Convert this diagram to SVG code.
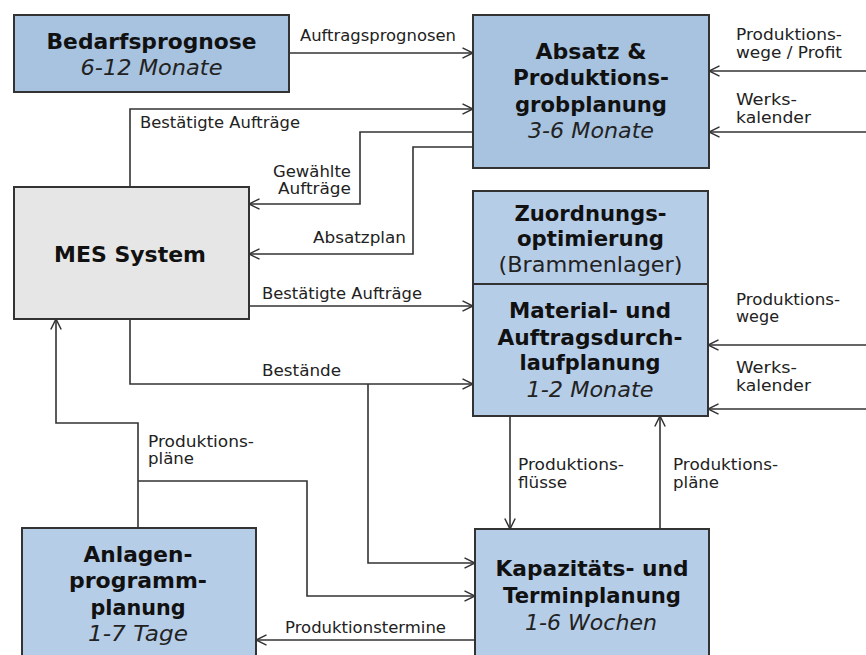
<svg xmlns="http://www.w3.org/2000/svg" width="866" height="655" viewBox="0 0 866 655">
<defs>
<marker id="arr" viewBox="0 0 12 12" refX="11.5" refY="6" markerWidth="12" markerHeight="12" orient="auto" markerUnits="userSpaceOnUse">
<path d="M1,0.8 L11.5,6 L1,11.2" fill="none" stroke="#333" stroke-width="1.5"/>
</marker>
<style>
.box{stroke:#333;stroke-width:2}
.dk{fill:#a8c3e0}
.lt{fill:#b6cde8}
.gr{fill:#e6e6e6}
.t{font-family:"DejaVu Sans","Liberation Sans",sans-serif;font-size:20.5px;font-weight:bold;fill:#111;text-anchor:middle}
.i{font-family:"DejaVu Sans","Liberation Sans",sans-serif;font-size:20.5px;font-style:italic;fill:#222;text-anchor:middle}
.n{font-family:"DejaVu Sans","Liberation Sans",sans-serif;font-size:20.5px;fill:#222;text-anchor:middle}
.l{font-family:"DejaVu Sans","Liberation Sans",sans-serif;font-size:15px;fill:#222}
.e{text-anchor:end}
.c{fill:none;stroke:#333;stroke-width:1.6;marker-end:url(#arr)}
</style>
</defs>
<rect width="866" height="655" fill="#fff"/>

<g id="connectors">
<path class="c" d="M289,53 H473"/>
<path class="c" d="M130,187 V109 H473"/>
<path class="c" d="M473,132 H360 V204 H249"/>
<path class="c" d="M473,147 H413 V254 H249"/>
<path class="c" d="M249,306 H473"/>
<path class="c" d="M130,319 V384 H473"/>
<path class="c" d="M368,384 V563 H475"/>
<path class="c" d="M138,528 V423 H56 V319"/>
<path class="c" d="M138,481 H307 V596 H475"/>
<path class="c" d="M475,640 H256"/>
<path class="c" d="M866,71 H709"/>
<path class="c" d="M866,132 H709"/>
<path class="c" d="M866,345 H708"/>
<path class="c" d="M866,409 H708"/>
<path class="c" d="M510,416 V529"/>
<path class="c" d="M660,529 V416"/>
<g id="connector-labels">
<text class="l" x="300" y="40.5" textLength="156" lengthAdjust="spacingAndGlyphs">Auftragsprognosen</text>
<text class="l" x="140" y="127.5" textLength="160" lengthAdjust="spacingAndGlyphs">Bestätigte Aufträge</text>
<text class="l e" x="351" y="176.5" textLength="78" lengthAdjust="spacingAndGlyphs">Gewählte</text>
<text class="l e" x="351" y="194" textLength="73" lengthAdjust="spacingAndGlyphs">Aufträge</text>
<text class="l e" x="406" y="242.5" textLength="93" lengthAdjust="spacingAndGlyphs">Absatzplan</text>
<text class="l" x="262" y="298.5" textLength="160" lengthAdjust="spacingAndGlyphs">Bestätigte Aufträge</text>
<text class="l" x="262" y="376" textLength="79" lengthAdjust="spacingAndGlyphs">Bestände</text>
<text class="l" x="148" y="446.5" textLength="106" lengthAdjust="spacingAndGlyphs">Produktions-</text>
<text class="l" x="148" y="464" textLength="46" lengthAdjust="spacingAndGlyphs">pläne</text>
<text class="l" x="285" y="633" textLength="161" lengthAdjust="spacingAndGlyphs">Produktionstermine</text>
<text class="l" x="736" y="40" textLength="106" lengthAdjust="spacingAndGlyphs">Produktions-</text>
<text class="l" x="736" y="58" textLength="106" lengthAdjust="spacingAndGlyphs">wege / Profit</text>
<text class="l" x="736" y="104.5" textLength="61" lengthAdjust="spacingAndGlyphs">Werks-</text>
<text class="l" x="736" y="122.5" textLength="75" lengthAdjust="spacingAndGlyphs">kalender</text>
<text class="l" x="736" y="304.5" textLength="104" lengthAdjust="spacingAndGlyphs">Produktions-</text>
<text class="l" x="736" y="322" textLength="43" lengthAdjust="spacingAndGlyphs">wege</text>
<text class="l" x="736" y="373" textLength="61" lengthAdjust="spacingAndGlyphs">Werks-</text>
<text class="l" x="736" y="391" textLength="75" lengthAdjust="spacingAndGlyphs">kalender</text>
<text class="l" x="518" y="470" textLength="106" lengthAdjust="spacingAndGlyphs">Produktions-</text>
<text class="l" x="518" y="487.5" textLength="49" lengthAdjust="spacingAndGlyphs">flüsse</text>
<text class="l" x="673" y="470" textLength="105" lengthAdjust="spacingAndGlyphs">Produktions-</text>
<text class="l" x="673" y="487.5" textLength="46" lengthAdjust="spacingAndGlyphs">pläne</text>
</g>
</g>

<g id="bedarfsprognose">
<rect class="box dk" x="14" y="15" width="275" height="77"/>
<text class="t" x="151.5" y="48.5" textLength="210" lengthAdjust="spacingAndGlyphs">Bedarfsprognose</text>
<text class="i" x="151.5" y="75" textLength="142" lengthAdjust="spacingAndGlyphs">6-12 Monate</text>
</g>

<g id="absatz">
<rect class="box dk" x="473" y="15" width="236" height="153"/>
<text class="t" x="591" y="58.5" textLength="111" lengthAdjust="spacingAndGlyphs">Absatz &amp;</text>
<text class="t" x="591" y="85" textLength="156" lengthAdjust="spacingAndGlyphs">Produktions-</text>
<text class="t" x="591" y="111.5" textLength="152" lengthAdjust="spacingAndGlyphs">grobplanung</text>
<text class="i" x="591" y="138" textLength="126" lengthAdjust="spacingAndGlyphs">3-6 Monate</text>
</g>

<g id="mes">
<rect class="box gr" x="14" y="187" width="235" height="132"/>
<text class="t" x="130" y="261.5" textLength="152" lengthAdjust="spacingAndGlyphs">MES System</text>
</g>

<g id="zuordnung">
<rect class="box lt" x="473" y="191" width="235" height="93"/>
<text class="t" x="590.5" y="220.5" textLength="152" lengthAdjust="spacingAndGlyphs">Zuordnungs-</text>
<text class="t" x="590.5" y="246" textLength="147" lengthAdjust="spacingAndGlyphs">optimierung</text>
<text class="n" x="590.5" y="272" textLength="184" lengthAdjust="spacingAndGlyphs">(Brammenlager)</text>
</g>

<g id="material">
<rect class="box lt" x="473" y="284" width="235" height="132"/>
<text class="t" x="590" y="318" textLength="162" lengthAdjust="spacingAndGlyphs">Material- und</text>
<text class="t" x="590" y="345" textLength="185" lengthAdjust="spacingAndGlyphs">Auftragsdurch-</text>
<text class="t" x="590" y="370" textLength="141" lengthAdjust="spacingAndGlyphs">laufplanung</text>
<text class="i" x="590" y="397" textLength="127" lengthAdjust="spacingAndGlyphs">1-2 Monate</text>
</g>

<g id="anlagen">
<rect class="box lt" x="22" y="528" width="234" height="140"/>
<text class="t" x="138" y="561.5" textLength="109" lengthAdjust="spacingAndGlyphs">Anlagen-</text>
<text class="t" x="138" y="588" textLength="138" lengthAdjust="spacingAndGlyphs">programm-</text>
<text class="t" x="138" y="615" textLength="95" lengthAdjust="spacingAndGlyphs">planung</text>
<text class="i" x="138" y="641" textLength="100" lengthAdjust="spacingAndGlyphs">1-7 Tage</text>
</g>

<g id="kapazitaet">
<rect class="box lt" x="475" y="529" width="234" height="140"/>
<text class="t" x="592" y="576" textLength="193" lengthAdjust="spacingAndGlyphs">Kapazitäts- und</text>
<text class="t" x="592" y="603" textLength="178" lengthAdjust="spacingAndGlyphs">Terminplanung</text>
<text class="i" x="591" y="630" textLength="132" lengthAdjust="spacingAndGlyphs">1-6 Wochen</text>
</g>
</svg>
